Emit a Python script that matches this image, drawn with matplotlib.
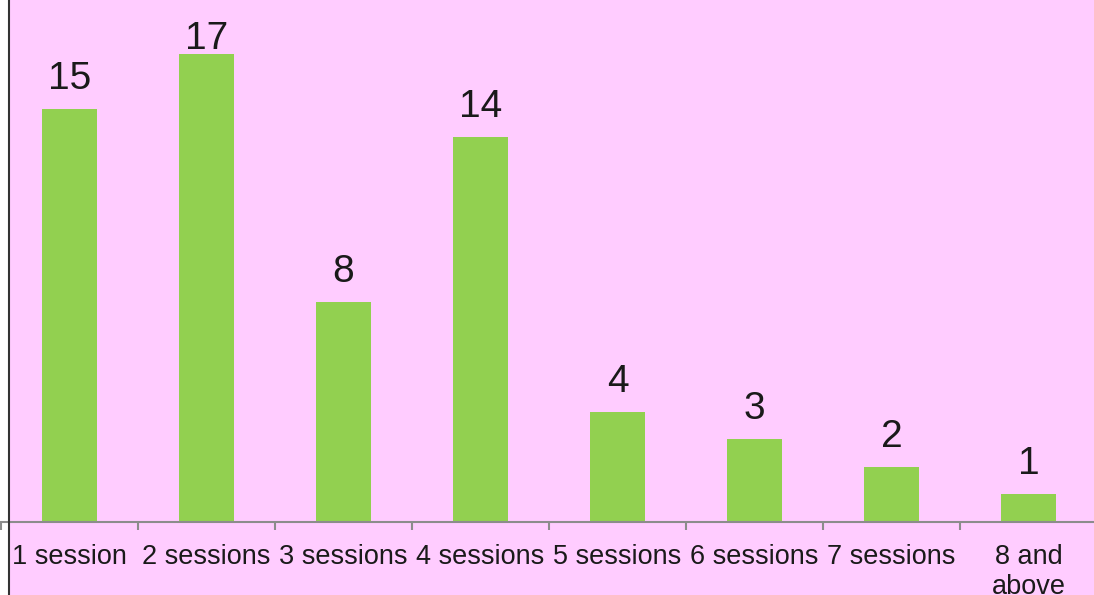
import matplotlib.pyplot as plt
from matplotlib.patches import Rectangle
from matplotlib.lines import Line2D

plt.rcParams['font.family'] = ['Liberation Sans', 'DejaVu Sans']

categories = ["1 session", "2 sessions", "3 sessions", "4 sessions",
              "5 sessions", "6 sessions", "7 sessions", "8 and\nabove"]
counts = [15, 17, 8, 14, 4, 3, 2, 1]

pink = "#FFCCFF"
green = "#92D050"
text_col = "#1a1a1a"

W, H = 1094, 595
px_per_unit = 27.53
fig = plt.figure(figsize=(W / 100, H / 100), dpi=100)
fig.patch.set_facecolor(pink)

# white strip and dark vertical axis at the left edge
fig.add_artist(Rectangle((0, 0), 8 / W, 1, transform=fig.transFigure,
                         facecolor="white", edgecolor="none", zorder=0))
fig.add_artist(Line2D([8.5 / W, 8.5 / W], [0, 1], transform=fig.transFigure,
                      color="#333333", lw=1.5, zorder=5))

ax = fig.add_axes([1 / W, (H - 522) / H, 1096 / W, 522 / H])
ax.set_facecolor("none")

x = list(range(len(categories)))
ax.bar(x, counts, width=0.4, color=green, zorder=2)
ax.set_xlim(-0.5, len(categories) - 0.5)
ax.set_ylim(0, 522 / px_per_unit)

# value labels, kept inside the plot area when the bar is too tall
max_base = (522 - 49) / px_per_unit
for xi, v in zip(x, counts):
    base = min(v + 20 / px_per_unit, max_base)
    ax.text(xi, base, str(v), ha="center", va="baseline", fontsize=28,
            color=text_col)

for s in ["top", "right", "left"]:
    ax.spines[s].set_visible(False)
ax.spines["bottom"].set_color("#8c8c8c")
ax.spines["bottom"].set_linewidth(1.5)

ax.set_yticks([])
ax.set_xticks([i - 0.5 for i in range(len(categories) + 1)])
ax.set_xticklabels([])
ax.tick_params(axis="x", which="major", length=6, width=1.5, color="#8c8c8c",
               direction="out")
ax.set_xticks(x, minor=True)
ax.set_xticklabels(categories, minor=True, fontsize=19.5, color=text_col,
                   linespacing=1.2)
ax.tick_params(axis="x", which="minor", length=0, pad=16)

fig.savefig("out.png", dpi=100, facecolor=fig.get_facecolor())
